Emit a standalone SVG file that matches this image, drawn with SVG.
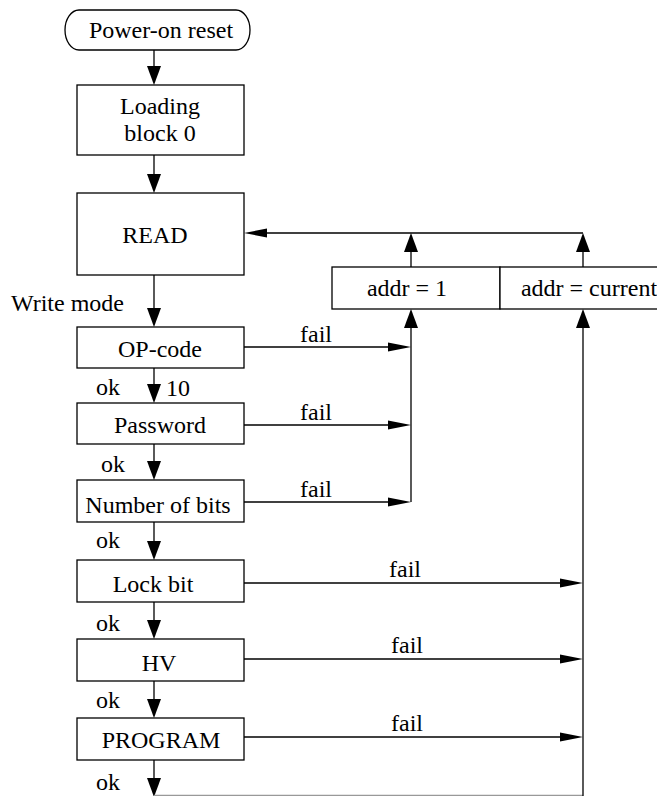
<svg xmlns="http://www.w3.org/2000/svg" width="657" height="796" viewBox="0 0 657 796">
<style>
.box{fill:#fff;stroke:#000;stroke-width:1.3}
.ln{fill:none;stroke:#000;stroke-width:1.3}
.hd{fill:#000;stroke:none}
text{font-family:"Liberation Serif","Times New Roman",serif;font-size:24px;fill:#000}
.c{text-anchor:middle}
</style>
<defs>
<path id="dn" d="M-7,-19 L7,-19 L0,0 Z"/>
<path id="up" d="M-7,19 L7,19 L0,0 Z"/>
<path id="rt" d="M-23,-4.5 L-23,4.5 L0,0 Z"/>
<path id="lf" d="M23,-4.5 L23,4.5 L0,0 Z"/>
</defs>
<g id="connectors">
<line class="ln" x1="154" y1="50" x2="154" y2="70"/><use href="#dn" class="hd" x="154" y="85"/>
<line class="ln" x1="154" y1="155" x2="154" y2="178"/><use href="#dn" class="hd" x="154" y="193"/>
<line class="ln" x1="154" y1="275" x2="154" y2="312"/><use href="#dn" class="hd" x="154" y="327"/>
<line class="ln" x1="154" y1="368" x2="154" y2="388"/><use href="#dn" class="hd" x="154" y="403"/>
<line class="ln" x1="154" y1="444" x2="154" y2="465"/><use href="#dn" class="hd" x="154" y="480"/>
<line class="ln" x1="154" y1="522" x2="154" y2="545"/><use href="#dn" class="hd" x="154" y="560"/>
<line class="ln" x1="154" y1="602" x2="154" y2="624"/><use href="#dn" class="hd" x="154" y="639"/>
<line class="ln" x1="154" y1="681" x2="154" y2="703"/><use href="#dn" class="hd" x="154" y="718"/>
<line class="ln" x1="154" y1="760" x2="154" y2="781"/><use href="#dn" class="hd" x="154" y="797"/>
<line x1="154" y1="795.5" x2="583" y2="795.5" stroke="#999" stroke-width="1.3"/>
<line class="ln" x1="583" y1="796" x2="583" y2="320"/><use href="#up" class="hd" x="583" y="309"/>
<line class="ln" x1="411" y1="502" x2="411" y2="320"/><use href="#up" class="hd" x="411" y="309"/>
<line class="ln" x1="411" y1="267" x2="411" y2="245"/><use href="#up" class="hd" x="411" y="233"/>
<line class="ln" x1="583" y1="267" x2="583" y2="245"/><use href="#up" class="hd" x="583" y="233"/>
<line class="ln" x1="583" y1="233" x2="260" y2="233"/><use href="#lf" class="hd" x="244" y="233"/>
<line class="ln" x1="244" y1="347" x2="395" y2="347"/><use href="#rt" class="hd" x="411" y="347"/>
<line class="ln" x1="244" y1="425" x2="395" y2="425"/><use href="#rt" class="hd" x="411" y="425"/>
<line class="ln" x1="244" y1="502" x2="395" y2="502"/><use href="#rt" class="hd" x="411" y="502"/>
<line class="ln" x1="244" y1="583" x2="567" y2="583"/><use href="#rt" class="hd" x="583" y="583"/>
<line class="ln" x1="244" y1="659" x2="567" y2="659"/><use href="#rt" class="hd" x="583" y="659"/>
<line class="ln" x1="244" y1="737" x2="567" y2="737"/><use href="#rt" class="hd" x="583" y="737"/>
<text x="316" y="342" class="c">fail</text>
<text x="316" y="420" class="c">fail</text>
<text x="316" y="497" class="c">fail</text>
<text x="405" y="577" class="c">fail</text>
<text x="407" y="653" class="c">fail</text>
<text x="407" y="731" class="c">fail</text>
<text x="11" y="311">Write mode</text>
<text x="96" y="395">ok</text>
<text x="166" y="396">10</text>
<text x="101" y="472">ok</text>
<text x="96" y="548">ok</text>
<text x="96" y="631">ok</text>
<text x="96" y="708">ok</text>
<text x="96" y="790">ok</text>
</g>
<g id="n-power"><rect class="box" x="65" y="10" width="185" height="40" rx="14" ry="20"/><text x="161" y="38" class="c">Power-on reset</text></g>
<g id="n-loading"><rect class="box" x="77" y="85" width="167" height="70"/><text x="160" y="114" class="c">Loading</text><text x="160" y="141" class="c">block 0</text></g>
<g id="n-read"><rect class="box" x="77" y="193" width="167" height="82"/><text x="155" y="243" class="c">READ</text></g>
<g id="n-opcode"><rect class="box" x="77" y="327" width="167" height="41"/><text x="160" y="357" class="c">OP-code</text></g>
<g id="n-password"><rect class="box" x="77" y="403" width="167" height="41"/><text x="160" y="433" class="c">Password</text></g>
<g id="n-nbits"><rect class="box" x="77" y="480" width="167" height="42"/><text x="158" y="513" class="c">Number of bits</text></g>
<g id="n-lock"><rect class="box" x="77" y="560" width="167" height="42"/><text x="153" y="592" class="c">Lock bit</text></g>
<g id="n-hv"><rect class="box" x="77" y="639" width="167" height="42"/><text x="159" y="671" class="c">HV</text></g>
<g id="n-program"><rect class="box" x="77" y="718" width="167" height="42"/><text x="161" y="748" class="c">PROGRAM</text></g>
<g id="n-addr1"><rect class="box" x="332" y="267" width="168" height="42"/><text x="407" y="296" class="c">addr = 1</text></g>
<g id="n-addrcur"><rect class="box" x="500" y="267" width="162" height="42"/><text x="589" y="296" class="c">addr = current</text></g>
</svg>
